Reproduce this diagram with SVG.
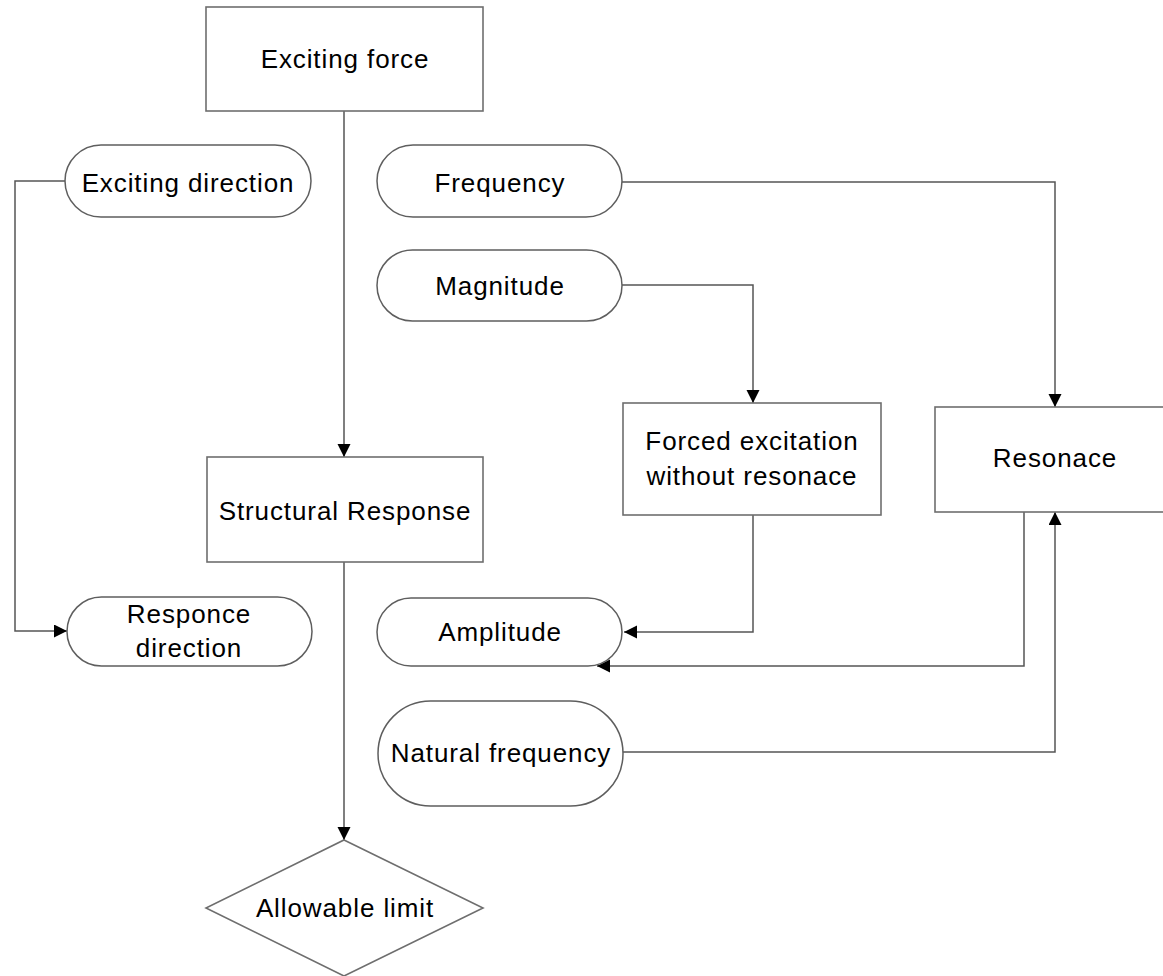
<svg xmlns="http://www.w3.org/2000/svg" width="1163" height="976" viewBox="0 0 1163 976">
<style>
.box{fill:#fff;stroke:#6e6e6e;stroke-width:1.6}
.pill{fill:#fff;stroke:#5e5e5e;stroke-width:1.5}
.edge{fill:none;stroke:#555;stroke-width:1.5}
text{font-family:"Liberation Sans",Arial,sans-serif;font-size:26px;letter-spacing:0.9px;fill:#000;text-anchor:middle}
</style>
<defs>
<marker id="arr" markerUnits="userSpaceOnUse" markerWidth="15" markerHeight="15" refX="13" refY="6.5" orient="auto">
<path d="M0,0 L13,6.5 L0,13 z" fill="#000"/>
</marker>
</defs>
<rect width="1163" height="976" fill="#fff"/>
<g id="connectors">
<path class="edge" d="M344,111 V457" marker-end="url(#arr)"/>
<path class="edge" d="M65,181 H15 V631 H67" marker-end="url(#arr)"/>
<path class="edge" d="M622,182 H1055 V407" marker-end="url(#arr)"/>
<path class="edge" d="M622,285 H753 V403" marker-end="url(#arr)"/>
<path class="edge" d="M753,515 V632 H624" marker-end="url(#arr)"/>
<path class="edge" d="M1024,512 V666 H597" marker-end="url(#arr)"/>
<path class="edge" d="M623,752 H1055 V512" marker-end="url(#arr)"/>
<path class="edge" d="M344,562 V840" marker-end="url(#arr)"/>
</g>
<g id="exciting-force">
<rect class="box" x="206" y="7" width="277" height="104"/>
<text x="345" y="68">Exciting force</text>
</g>
<g id="exciting-direction">
<rect class="pill" x="65" y="145" width="246" height="72" rx="36"/>
<text x="188" y="192">Exciting direction</text>
</g>
<g id="frequency">
<rect class="pill" x="377" y="145" width="245" height="72" rx="36"/>
<text x="500" y="192">Frequency</text>
</g>
<g id="magnitude">
<rect class="pill" x="377" y="250" width="245" height="71" rx="35.5"/>
<text x="500" y="295">Magnitude</text>
</g>
<g id="forced-excitation">
<rect class="box" x="623" y="403" width="258" height="112"/>
<text x="752" y="450">Forced excitation</text>
<text x="752" y="485">without resonace</text>
</g>
<g id="resonace">
<rect class="box" x="935" y="407" width="245" height="105"/>
<text x="1055" y="467">Resonace</text>
</g>
<g id="structural-response">
<rect class="box" x="207" y="457" width="276" height="105"/>
<text x="345" y="520">Structural Response</text>
</g>
<g id="responce-direction">
<rect class="pill" x="67" y="597" width="245" height="69" rx="34.5"/>
<text x="189" y="623">Responce</text>
<text x="189" y="657">direction</text>
</g>
<g id="amplitude">
<rect class="pill" x="377" y="598" width="245" height="68" rx="34"/>
<text x="500" y="641">Amplitude</text>
</g>
<g id="natural-frequency">
<rect class="pill" x="378" y="701" width="245" height="105" rx="52.5"/>
<text x="501" y="762">Natural frequency</text>
</g>
<g id="allowable-limit">
<polygon class="box" points="344,840 483,908 344,976 206,908"/>
<text x="345" y="917">Allowable limit</text>
</g>
</svg>
